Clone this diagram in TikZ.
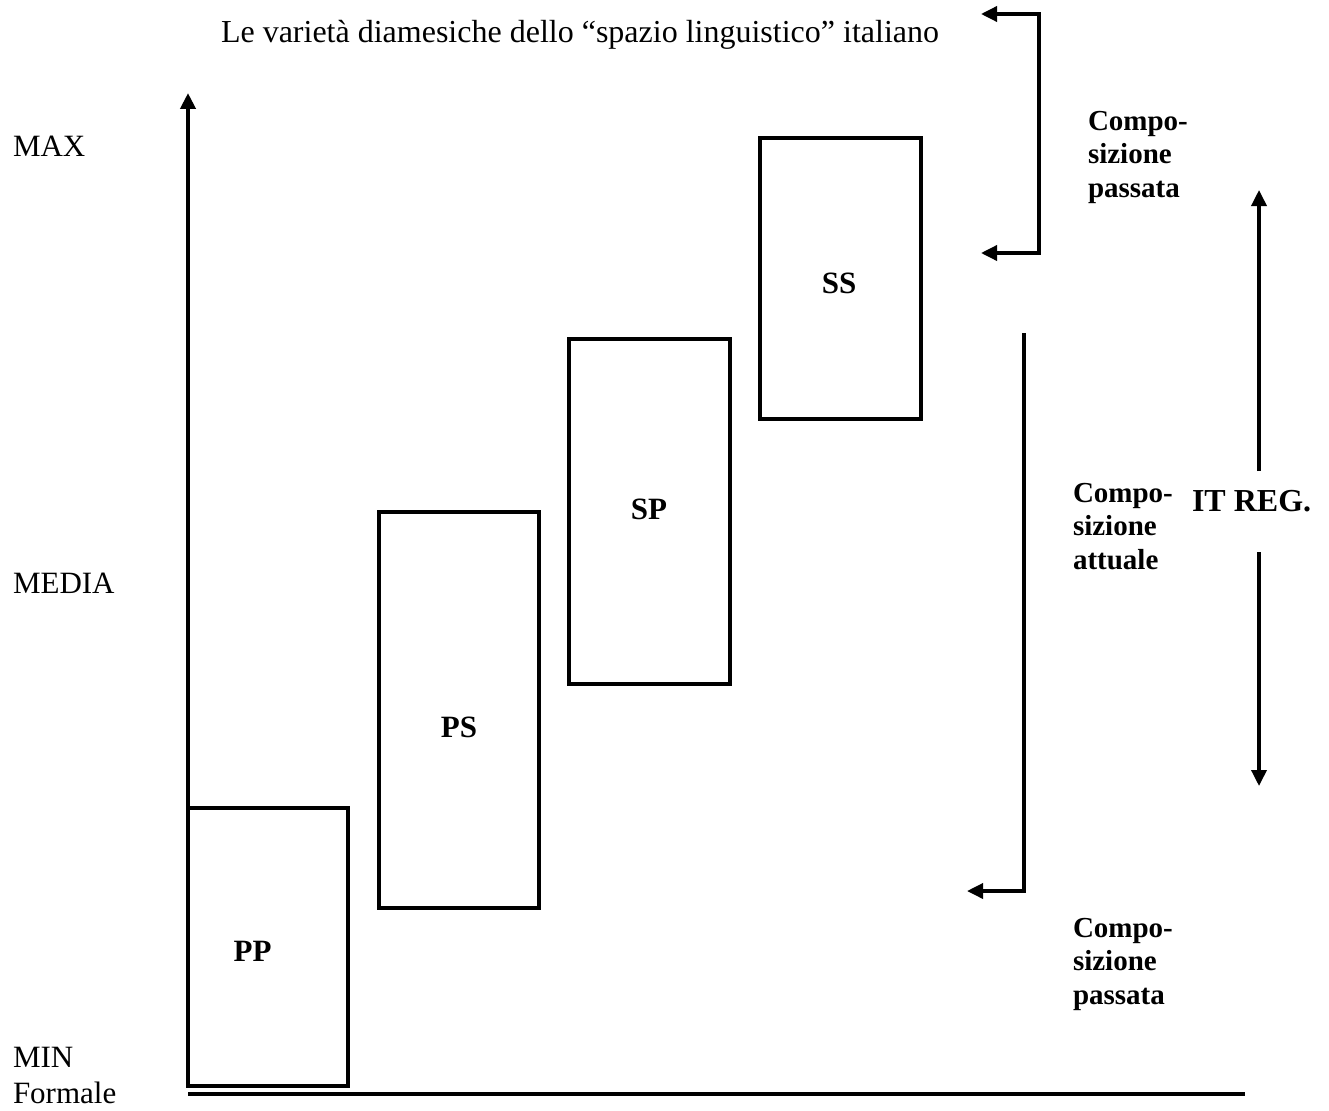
\documentclass[tikz,border=0pt]{standalone}
\usepackage{fontspec}
\setmainfont{Liberation Serif}
\usetikzlibrary{arrows.meta}
\begin{document}
\begin{tikzpicture}[x=1pt,y=-1pt,
  every node/.style={inner sep=0pt, outer sep=0pt},
  lbl/.style={font=\fontsize{31}{36}\selectfont, anchor=base west},
  boxlbl/.style={font=\fontsize{31}{36}\selectfont\bfseries, anchor=base},
  note/.style={font=\fontsize{29}{33.5}\selectfont\bfseries, align=left, anchor=base west},
  frame/.style={draw, line width=4pt, rectangle},
  conn/.style={line width=3.5pt},
  tip/.style={-{Triangle[length=16pt,width=15pt]}},
  tips/.style={{Triangle[length=16pt,width=15pt]}-{Triangle[length=16pt,width=15pt]}},
]
\useasboundingbox (0,0) rectangle (1329,1110);

% title
\node[lbl, font=\fontsize{32}{36}\selectfont] (title) at (221,43) {Le varietà diamesiche dello “spazio linguistico” italiano};

% scale labels on the left
\node[lbl] (max)   at (13,157)  {MAX};
\node[lbl] (media) at (13,593)  {MEDIA};
\node[lbl] (min)   at (13,1067) {MIN};
\node[lbl] (form)  at (13,1103) {Formale};

% the four varieties
\node[frame, minimum width=160pt, minimum height=278pt] (pp) at (268,947) {};
\node[frame, minimum width=160pt, minimum height=396pt] (ps) at (459,710) {};
\node[frame, minimum width=161pt, minimum height=345pt] (sp) at (649.5,511.5) {};
\node[frame, minimum width=161pt, minimum height=280pt] (ss) at (840.5,278.5) {};

\node[boxlbl] (ppl) at (252.5,961) {PP};
\node[boxlbl] (psl) at (459,737)   {PS};
\node[boxlbl] (spl) at (649,519)   {SP};
\node[boxlbl] (ssl) at (839,293)   {SS};

% axes
\coordinate (ytop) at (pp.south west |- 0,93);
\coordinate (xl) at (188,1094);
\coordinate (xr) at (1245,1094);
\draw[line width=4pt, tip] (pp.south west) -- (ytop);
\draw[line width=4pt] (xl) -- (xr);

% bracket: past composition (top)
\coordinate (ba1) at (981,14);
\coordinate (ba2) at (1039,14);
\coordinate (ba3) at (1039,253);
\coordinate (ba4) at (981,253);
\draw[conn, tips] (ba1) -- (ba2) -- (ba3) -- (ba4);

% bracket: current composition
\coordinate (bb1) at (1024,333);
\coordinate (bb2) at (1024,891);
\coordinate (bb3) at (967,891);
\draw[conn, tip] (bb1) -- (bb2) -- (bb3);

% side notes (anchored on the baseline of their last line)
\node[note] (cp1) at (1088,197)  {Compo-\\sizione\\passata};
\node[note] (ca)  at (1073,569)  {Compo-\\sizione\\attuale};
\node[note] (cp2) at (1073,1004) {Compo-\\sizione\\passata};

% regional Italian range
\node[font=\fontsize{32}{36}\selectfont\bfseries, anchor=base west] (itreg) at (1192,511) {IT REG.};
\coordinate (ru) at (1259,471);
\coordinate (rt) at (1259,190);
\coordinate (rl) at (1259,552);
\coordinate (rb) at (1259,786);
\draw[conn, tip] (ru) -- (rt);
\draw[conn, tip] (rl) -- (rb);
\end{tikzpicture}
\end{document}
